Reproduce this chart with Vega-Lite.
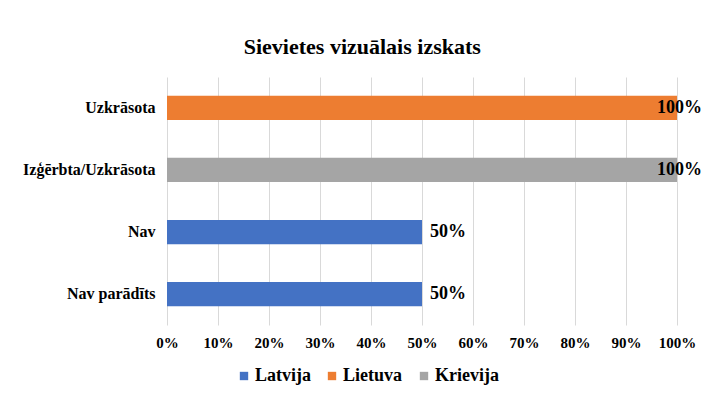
{
  "$schema": "https://vega.github.io/schema/vega-lite/v6.json",
  "width": 510,
  "height": 248,
  "autosize": {"type": "none"},
  "padding": {"left": 167, "top": 77, "right": 35, "bottom": 77},
  "background": "white",
  "title": {
    "text": "Sievietes vizuālais izskats",
    "font": "Liberation Serif, serif",
    "fontSize": 22,
    "fontWeight": "bold",
    "color": "#000000",
    "frame": "bounds",
    "anchor": "middle",
    "offset": 18
  },
  "data": {
    "values": [
      {"kategorija": "Uzkrāsota", "valsts": "Lietuva", "vertiba": 1.0},
      {"kategorija": "Izģērbta/Uzkrāsota", "valsts": "Krievija", "vertiba": 1.0},
      {"kategorija": "Nav", "valsts": "Latvija", "vertiba": 0.5},
      {"kategorija": "Nav parādīts", "valsts": "Latvija", "vertiba": 0.5}
    ]
  },
  "encoding": {
    "y": {
      "field": "kategorija",
      "type": "nominal",
      "sort": ["Uzkrāsota", "Izģērbta/Uzkrāsota", "Nav", "Nav parādīts"],
      "scale": {"paddingInner": 0.61, "paddingOuter": 0.3},
      "axis": {
        "title": null,
        "domain": false,
        "ticks": false,
        "labelFont": "Liberation Serif, serif",
        "labelFontSize": 16,
        "labelFontWeight": "bold",
        "labelColor": "#000000",
        "labelPadding": 12
      }
    },
    "x": {
      "field": "vertiba",
      "type": "quantitative",
      "scale": {"domain": [0, 1], "nice": false},
      "axis": {
        "title": null,
        "format": ".0%",
        "values": [0, 0.1, 0.2, 0.3, 0.4, 0.5, 0.6, 0.7, 0.8, 0.9, 1.0],
        "domain": false,
        "ticks": false,
        "grid": true,
        "gridColor": "#d9d9d9",
        "gridWidth": 1,
        "labelFont": "Liberation Serif, serif",
        "labelFontSize": 15,
        "labelFontWeight": "bold",
        "labelColor": "#000000",
        "labelPadding": 10,
        "labelFlush": false
      }
    }
  },
  "layer": [
    {
      "mark": {"type": "bar"},
      "encoding": {
        "color": {
          "field": "valsts",
          "type": "nominal",
          "scale": {
            "domain": ["Latvija", "Lietuva", "Krievija"],
            "range": ["#4472C4", "#ED7D31", "#A5A5A5"]
          },
          "legend": {
            "title": null,
            "orient": "none",
            "direction": "horizontal",
            "legendX": 68,
            "legendY": 290,
            "symbolType": "square",
            "symbolSize": 70,
            "symbolStrokeWidth": 0,
            "labelFont": "Liberation Serif, serif",
            "labelFontSize": 18,
            "labelFontWeight": "bold",
            "labelColor": "#000000",
            "labelOffset": 2,
            "columnPadding": 12
          }
        }
      }
    },
    {
      "transform": [{"filter": "datum.vertiba < 1"}],
      "mark": {
        "type": "text",
        "align": "left",
        "dx": 8,
        "font": "Liberation Serif, serif",
        "fontSize": 18,
        "fontWeight": "bold",
        "color": "#000000"
      },
      "encoding": {"text": {"field": "vertiba", "type": "quantitative", "format": ".0%"}}
    },
    {
      "transform": [{"filter": "datum.vertiba >= 1"}],
      "mark": {
        "type": "text",
        "align": "left",
        "dx": -20,
        "font": "Liberation Serif, serif",
        "fontSize": 18,
        "fontWeight": "bold",
        "color": "#000000"
      },
      "encoding": {"text": {"field": "vertiba", "type": "quantitative", "format": ".0%"}}
    }
  ],
  "config": {"view": {"stroke": null}}
}
